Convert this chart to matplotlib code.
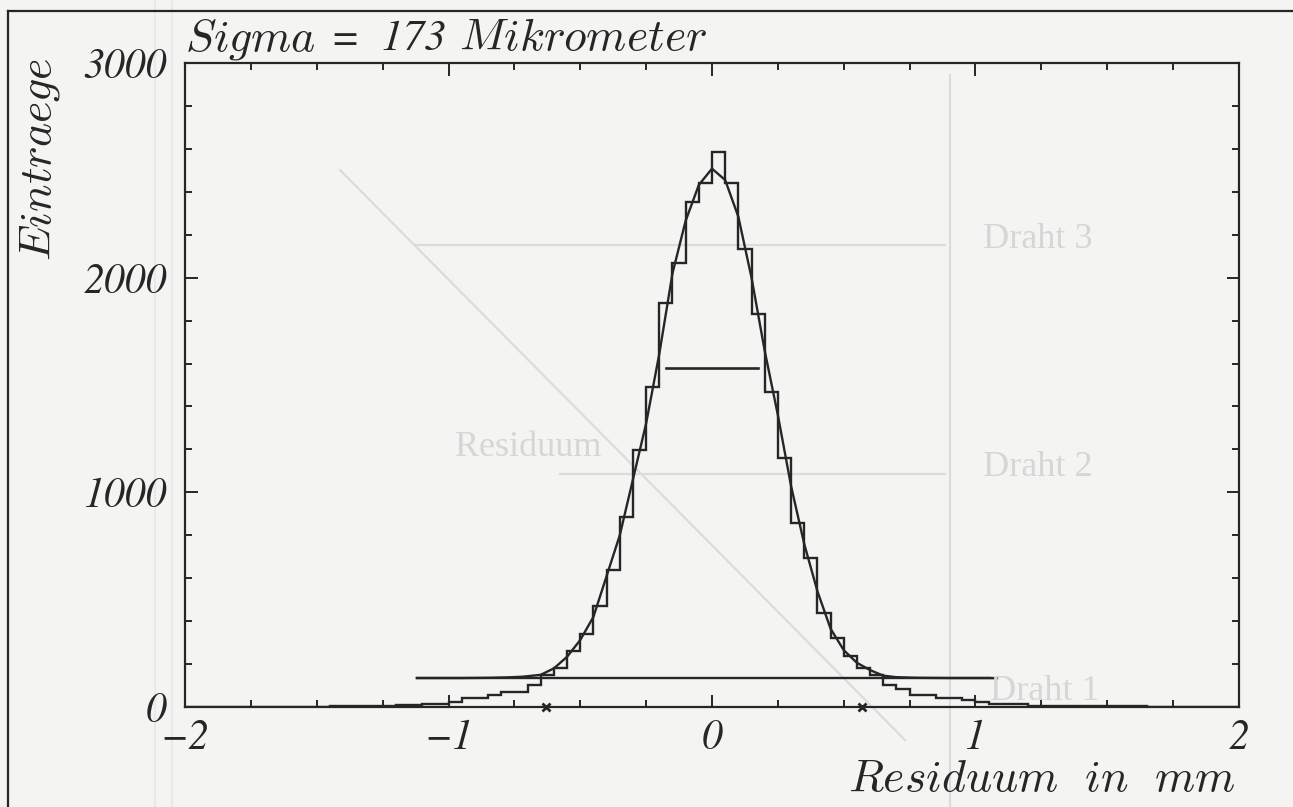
import numpy as np
import matplotlib
matplotlib.use("Agg")
import matplotlib.pyplot as plt
from matplotlib.ticker import MultipleLocator
from matplotlib.lines import Line2D

plt.rcParams['mathtext.fontset'] = 'cm'

# residual histogram, 0.05 mm bins from -2 to 2 mm
bin_edges = np.round(np.arange(-2.0, 2.0001, 0.05), 3)
counts = [0, 0, 0, 0, 0, 0, 0, 0, 2, 2, 2, 4, 4, 4, 7, 7, 10, 10, 16, 16,
          25, 40, 40, 56, 71, 71, 102, 149, 183, 262,
          340, 470, 638, 884, 1197, 1492, 1880, 2070, 2354, 2442,
          2587, 2442, 2132, 1829, 1469, 1160, 856, 693, 439, 320,
          239, 180, 149, 102, 82, 56, 56, 40, 40, 33,
          25, 16, 12, 12, 5, 5, 5, 5, 3, 3, 3, 3, 3, 0, 0, 0, 0, 0, 0, 0]

fit_x = [-1.12, -0.95, -0.85, -0.78, -0.72, -0.65, -0.60, -0.55, -0.50, -0.45,
         -0.40, -0.35, -0.30, -0.25, -0.20, -0.15, -0.10, -0.05, 0.0, 0.05,
         0.10, 0.15, 0.20, 0.25, 0.30, 0.35, 0.40, 0.45, 0.50, 0.55,
         0.60, 0.65, 0.70, 0.78, 0.90, 1.08]
fit_y = [135, 135, 136, 138, 141, 150, 180, 234, 312, 420,
         610, 800, 1060, 1321, 1645, 2020, 2265, 2432, 2508, 2455,
         2284, 2000, 1660, 1360, 1030, 760, 540, 365, 265, 206,
         172, 146, 139, 136, 135, 135]

background = 135          # constant term of the fit
bg_range = [-1.12, 1.08]
sigma_um = 173
sigma = sigma_um / 1000.0  # mm
sigma_height = 1578
fit_limits = [-0.63, 0.57]

ink = '#262626'
paper = '#f4f4f3'
ghost = '#d6d6d6'
word_size = 33
num_font = dict(family='STIXGeneral', style='italic')

fig = plt.figure(figsize=(12.93, 8.07), dpi=100, facecolor=paper)
ax = fig.add_axes([0.1431, 0.1239, 0.8151, 0.798])
ax.set_facecolor('none')

# faint lines and words from the sheet behind
for (x0, y0, x1, y1) in [(415, 245, 945, 245), (560, 474, 945, 474),
                         (950, 75, 950, 807), (340, 170, 905, 740)]:
    fig.add_artist(Line2D([x0 / 1293, x1 / 1293], [1 - y0 / 807, 1 - y1 / 807],
                          color='#dcdcdc', lw=1.6, zorder=0))
for xx in (155, 172):
    fig.add_artist(Line2D([xx / 1293, xx / 1293], [0, 1], color='#e9e9e9',
                          lw=1.5, zorder=0))
for txt, x, y in [('Draht 3', 1038, 240), ('Draht 2', 1038, 468),
                  ('Draht 1', 1045, 692), ('Residuum', 528, 447)]:
    fig.text(x / 1293, 1 - y / 807, txt, color=ghost, fontsize=26,
             family='Liberation Serif', ha='center', va='center', zorder=0)

# page frame
fig.add_artist(Line2D([8 / 1293, 1], [1 - 11 / 807, 1 - 11 / 807], color=ink, lw=1.6))
fig.add_artist(Line2D([8 / 1293, 8 / 1293], [0, 1 - 11 / 807], color=ink, lw=1.6))

ax.stairs(counts, bin_edges, color=ink, lw=1.7)
ax.plot(fit_x, fit_y, color=ink, lw=1.7)
ax.plot(bg_range, [background, background], color=ink, lw=1.7)
ax.plot([-sigma, sigma], [sigma_height, sigma_height], color=ink, lw=1.9)
ax.plot(fit_limits, [0, 0], 'x', color=ink, ms=6, mew=2, clip_on=False)

ax.set_xlim(-2, 2)
ax.set_ylim(0, 3000)
ax.set_xticks([-2, -1, 0, 1, 2])
ax.set_xticklabels(['\u22122', '\u22121', '0', '1', '2'], **num_font)
ax.set_yticks([0, 1000, 2000, 3000])
ax.set_yticklabels(['0', '1000', '2000', '3000'], **num_font)
ax.xaxis.set_minor_locator(MultipleLocator(0.25))
ax.yaxis.set_minor_locator(MultipleLocator(200))
ax.tick_params(which='both', direction='in', top=True, right=True,
               color=ink, width=1.4, labelcolor=ink, labelsize=30)
ax.tick_params(which='major', length=9)
ax.tick_params(which='minor', length=5)
ax.tick_params(axis='x', pad=9)
ax.tick_params(axis='y', pad=13)
for s in ax.spines.values():
    s.set_color(ink)
    s.set_linewidth(1.6)

# title: words in cm italic, "= 173" in italic digits
t1 = ax.text(0.0, 1.02, r'$\mathit{Sigma}$', transform=ax.transAxes,
             fontsize=word_size, color=ink, ha='left', va='baseline')
t2 = ax.annotate('=  ' + str(sigma_um), xy=(1, 1.02), xycoords=(t1, ax.transAxes),
                 xytext=(11, 0), textcoords='offset points', fontsize=31,
                 color=ink, ha='left', va='baseline', **num_font)
ax.annotate(r'$\mathit{Mikrometer}$', xy=(1, 1.02), xycoords=(t2, ax.transAxes),
            xytext=(9, 0), textcoords='offset points', fontsize=word_size,
            color=ink, ha='left', va='baseline')

fig.text(40 / 1293, 1 - 58 / 807, r'$\mathit{Eintraege}$', rotation=90,
         fontsize=word_size, color=ink, ha='center', va='top')
fig.text(1236 / 1293, 1 - 778 / 807, r'$\mathit{Residuum\ \ in\ \ mm}$',
         fontsize=word_size, color=ink, ha='right', va='center')

plt.savefig('out.png', dpi=100, facecolor=paper)
